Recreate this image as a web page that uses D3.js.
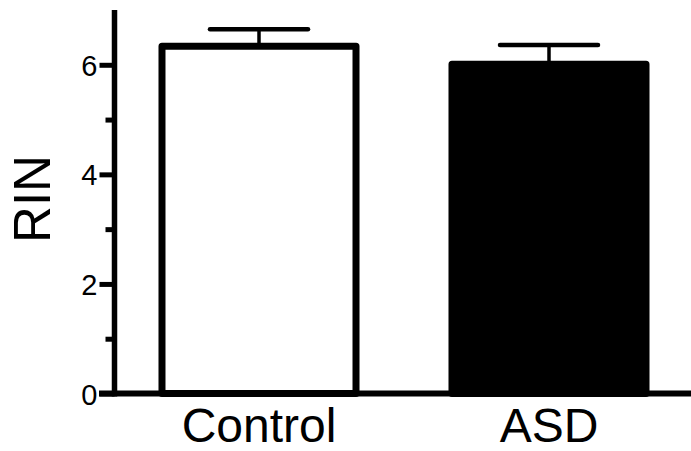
<!DOCTYPE html>
<html>
<head>
<meta charset="utf-8">
<script src="https://cdn.jsdelivr.net/npm/d3@7"></script>
<style>
  html, body { margin: 0; padding: 0; background: #fff; }
  svg { display: block; font-family: Arial, "Liberation Sans", Helvetica, sans-serif; }
</style>
</head>
<body>
<svg id="chart" width="691" height="451"></svg>
<script>
// RNA integrity number (RIN), mean ± SEM per group
const groups = ["Control", "ASD"];
const means = [6.34, 6.01];
const sems = [0.31, 0.35];
const majorTicks = [0, 2, 4, 6];
const minorTicks = [1, 3, 5];
const yLabel = "RIN";

const svg = d3.select("#chart");
const axisX = 114.5;

const y = d3.scaleLinear().domain([0, 7]).range([393.5, 10]);
const x = d3.scaleBand().domain(groups).range([114, 694])
  .paddingInner(0.331).paddingOuter(0.1655);

const data = groups.map((g, i) => ({ g, m: means[i], s: sems[i], i }));

// error bars (upper only)
const err = svg.append("g");
data.forEach(d => {
  const cx = x(d.g) + x.bandwidth() / 2;
  err.append("line")
    .attr("x1", cx).attr("x2", cx)
    .attr("y1", y(d.m)).attr("y2", y(d.m + d.s))
    .attr("stroke", "#000").attr("stroke-width", 3.5);
  err.append("line")
    .attr("x1", cx - 49).attr("x2", cx + 49)
    .attr("y1", y(d.m + d.s)).attr("y2", y(d.m + d.s))
    .attr("stroke", "#000").attr("stroke-width", 4.5)
    .attr("stroke-linecap", "round");
});

// bars
svg.append("g").selectAll("rect").data(data).join("rect")
  .attr("x", d => x(d.g))
  .attr("width", x.bandwidth())
  .attr("y", d => y(d.m))
  .attr("height", d => y(0) - y(d.m))
  .attr("fill", d => d.i === 0 ? "#fff" : "#000")
  .attr("stroke", "#000")
  .attr("stroke-width", 7)
  .attr("stroke-linejoin", "round");

// x axis
const gx = svg.append("g").attr("transform", `translate(0,${y(0)})`)
  .call(d3.axisBottom(x).tickSize(0).tickSizeOuter(0));
gx.select(".domain").remove();
gx.append("line")
  .attr("x1", 99).attr("x2", 691)
  .attr("stroke", "#000").attr("stroke-width", 6);
gx.selectAll(".tick text")
  .attr("y", 48).attr("dy", null)
  .attr("font-size", 48)
  .attr("font-family", null)
  .attr("fill", "#000");

// y axis: minor ticks
const gMinor = svg.append("g").attr("transform", `translate(${axisX},0)`)
  .call(d3.axisLeft(y).tickValues(minorTicks).tickSize(9).tickSizeOuter(0).tickFormat(""));
gMinor.select(".domain").remove();
gMinor.selectAll(".tick line").attr("stroke", "#000").attr("stroke-width", 5);

// y axis: major ticks, labels and spine
const gy = svg.append("g").attr("transform", `translate(${axisX},0)`)
  .call(d3.axisLeft(y).tickValues(majorTicks).tickSize(15).tickSizeOuter(0)
    .tickFormat(d3.format("d")));
gy.select(".domain").attr("stroke", "#000").attr("stroke-width", 5.5)
  .attr("d", `M0,${y(7)}V${y(0) + 3}`);
gy.selectAll(".tick line").attr("stroke", "#000").attr("stroke-width", 5);
gy.selectAll(".tick text")
  .attr("x", -17).attr("dy", null)
  .attr("y", 10.5)
  .attr("font-size", 29)
  .attr("font-family", null)
  .attr("fill", "#000");

// y axis title
svg.append("text")
  .attr("transform", "translate(50,199) rotate(-90)")
  .attr("text-anchor", "middle")
  .attr("font-size", 51)
  .attr("fill", "#000")
  .text(yLabel);
</script>
</body>
</html>
